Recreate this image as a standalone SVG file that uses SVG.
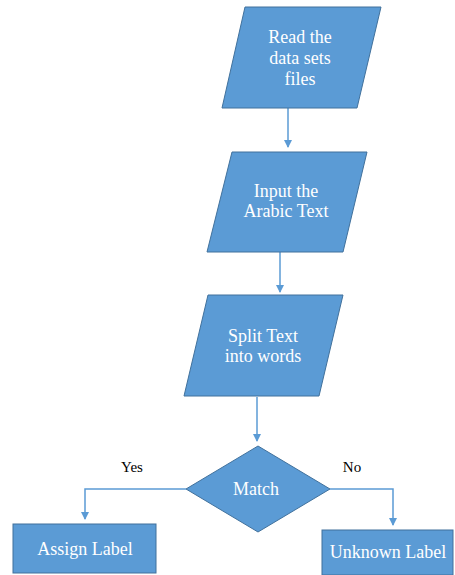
<svg xmlns="http://www.w3.org/2000/svg" width="455" height="575" viewBox="0 0 455 575">
<style>
.shape{fill:#5B9BD5;stroke:#41719C;stroke-width:1}
text{font-family:'Liberation Serif','Times New Roman','DejaVu Serif',serif}
.lbl{font-size:18px;fill:#FFFFFF;text-anchor:middle}
.edge{fill:none;stroke:#5B9BD5;stroke-width:1.5;marker-end:url(#arr)}
.elbl{font-size:15px;fill:#000000;text-anchor:middle;font-weight:normal}
</style>
<defs>
<marker id="arr" markerWidth="8" markerHeight="8" refX="7" refY="4" orient="auto" markerUnits="userSpaceOnUse">
<path d="M0,0 L8,4 L0,8 Z" fill="#5B9BD5"/>
</marker>
</defs>
<rect width="455" height="575" fill="#FFFFFF"/>
<g id="edges">
<path class="edge" d="M288,108 L288,147"/>
<path class="edge" d="M280,252 L280,292"/>
<path class="edge" d="M257,397 L257,441"/>
<path class="edge" d="M186,489 L85,489 L85,519"/>
<path class="edge" d="M330,489 L393,489 L393,525"/>
<text class="elbl" x="132" y="472" font-family="Liberation Serif, serif">Yes</text>
<text class="elbl" x="352" y="472" font-family="Liberation Serif, serif">No</text>
</g>
<g id="read">
<polygon class="shape" points="245,7 381,7 357,108 222,108"/>
<text class="lbl" x="300" y="43">Read the</text>
<text class="lbl" x="300" y="64">data sets</text>
<text class="lbl" x="300" y="85">files</text>
</g>
<g id="input">
<polygon class="shape" points="232,152 367,152 343,252 207,252"/>
<text class="lbl" x="286" y="197">Input the</text>
<text class="lbl" x="286" y="217">Arabic Text</text>
</g>
<g id="split">
<polygon class="shape" points="208,295 343,295 319,396 184,396"/>
<text class="lbl" x="263" y="342">Split Text</text>
<text class="lbl" x="263" y="362">into words</text>
</g>
<g id="match">
<polygon class="shape" points="258,446 330,489 258,532 186,489"/>
<text class="lbl" x="256" y="495">Match</text>
</g>
<g id="assign">
<rect class="shape" x="13" y="524" width="143" height="49"/>
<text class="lbl" x="85" y="555">Assign Label</text>
</g>
<g id="unknown">
<rect class="shape" x="322" y="530" width="131" height="45"/>
<text class="lbl" x="388" y="558">Unknown Label</text>
</g>
</svg>
